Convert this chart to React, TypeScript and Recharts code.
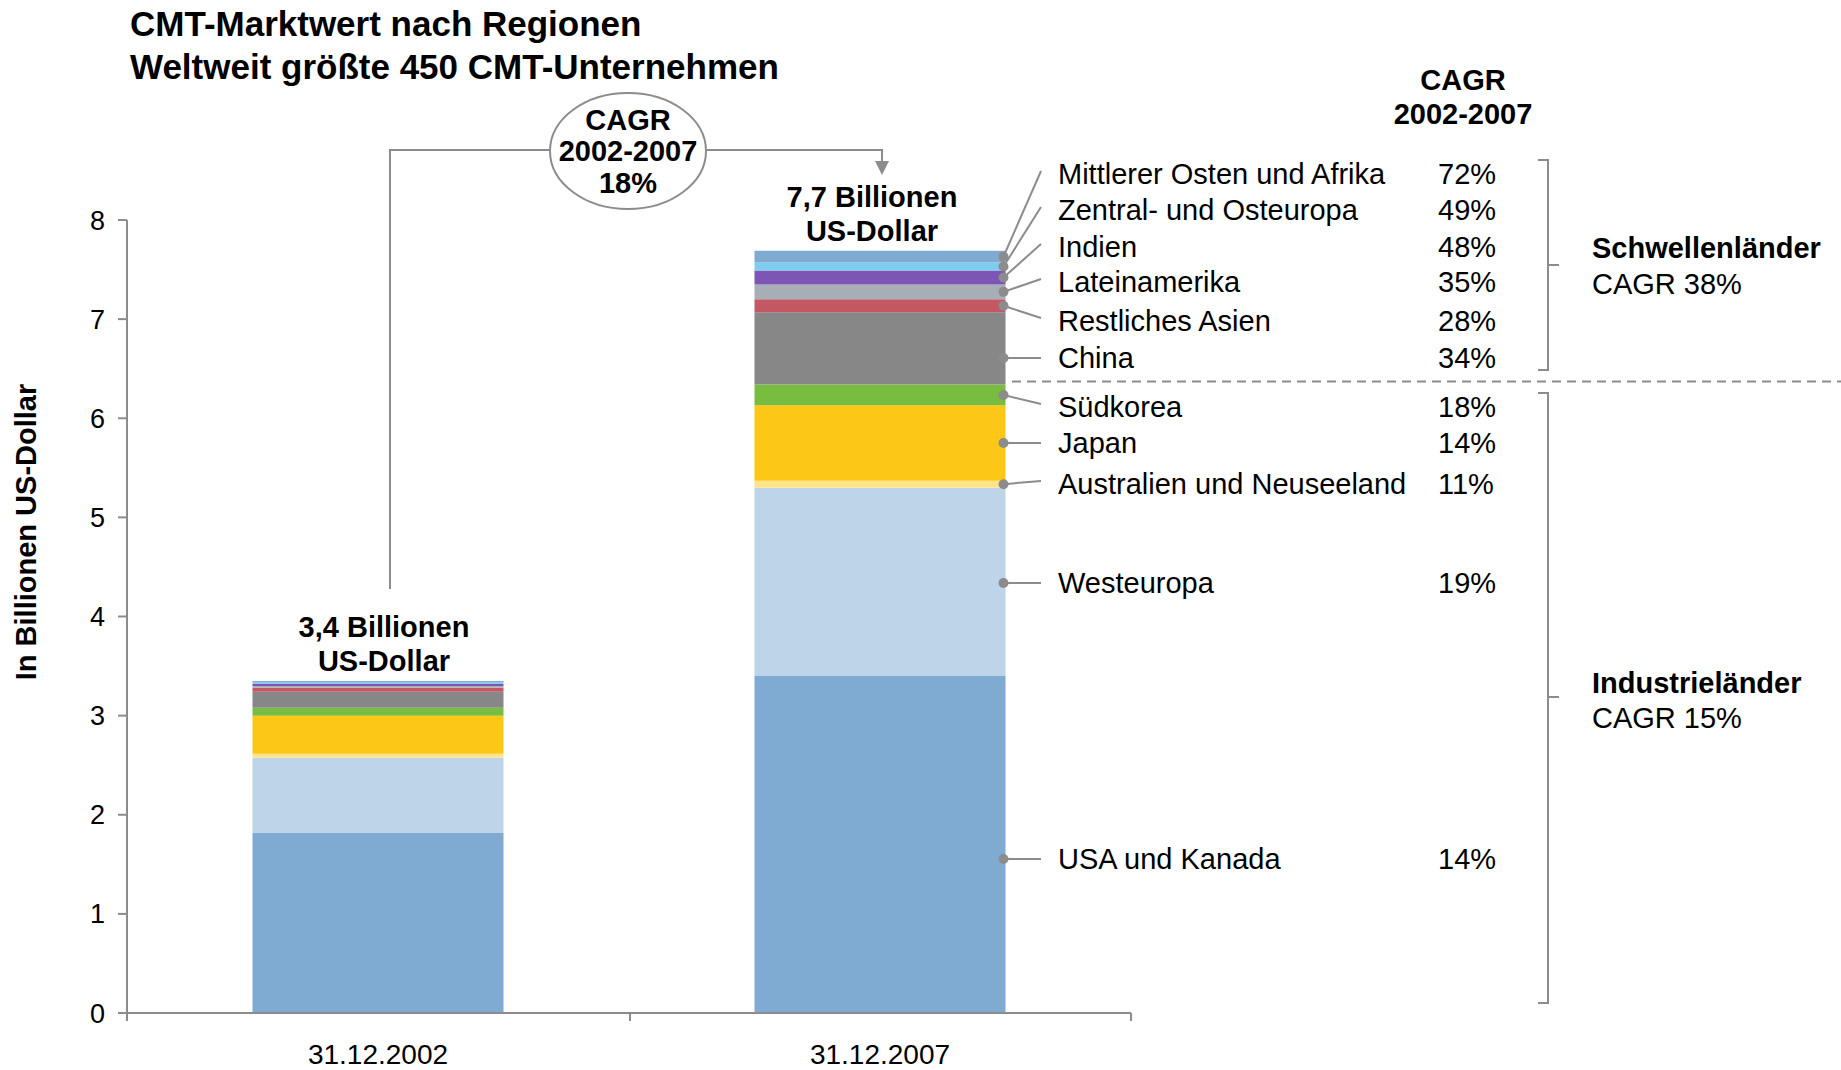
import React from 'react';
import { BarChart, Bar, XAxis, YAxis, LabelList } from 'recharts';

const categories = ['31.12.2002', '31.12.2007'];
const totals = ['3,4', '7,7'];
const regions = [
  'USA und Kanada',
  'Westeuropa',
  'Australien und Neuseeland',
  'Japan',
  'Südkorea',
  'China',
  'Restliches Asien',
  'Lateinamerika',
  'Indien',
  'Zentral- und Osteuropa',
  'Mittlerer Osten und Afrika',
];
const values2002 = [1.82, 0.755, 0.04, 0.385, 0.08, 0.16, 0.04, 0.02, 0.02, 0.015, 0.015];
const values2007 = [3.4, 1.9, 0.07, 0.76, 0.21, 0.73, 0.13, 0.15, 0.14, 0.08, 0.12];
const cagr = ['14%', '19%', '11%', '14%', '18%', '34%', '28%', '35%', '48%', '49%', '72%'];
const colors = ['#7faad2', '#bed4e9', '#fde48a', '#fcc716', '#78bd40', '#878787', '#c35862', '#a7aeb5', '#7c55b5', '#7ccdef', '#7faad2'];
const yTicks = [0, 1, 2, 3, 4, 5, 6, 7, 8];

// layout (label rows on the right, total-label horizontal nudges)
const labelY = [859, 583, 484, 443, 407, 358, 321, 282, 247, 210, 174];
const totalDx = [6, -8];

const FONT = '"Liberation Sans", Arial, Helvetica, sans-serif';
const GRAY = '#8c8c8c';

const data = categories.map((c, ci) => {
  const row: Record<string, any> = { cat: c };
  const vals = ci === 0 ? values2002 : values2007;
  regions.forEach((_, i) => {
    row['s' + i] = vals[i];
  });
  return row;
});

const makeLeader = (i: number) => (props: any) => {
  const { index } = props;
  if (index !== 1) return null;
  const x = Number(props.x ?? props.viewBox?.x);
  const y = Number(props.y ?? props.viewBox?.y);
  const w = Number(props.width ?? props.viewBox?.width);
  const h = Number(props.height ?? props.viewBox?.height);
  const top = Math.min(y, y + h);
  const hh = Math.abs(h);
  const ly = labelY[i];
  const dotY = hh > 40 ? Math.min(Math.max(ly, top + 5), top + hh - 5) : top + hh / 2;
  const dotX = x + w - 2;
  const endY = hh > 40 ? ly : ly - 3;
  return (
    <g>
      <line x1={dotX} y1={dotY} x2={1041} y2={endY} stroke={GRAY} strokeWidth={2} />
      <circle cx={dotX} cy={dotY} r={5} fill={GRAY} />
      <text x={1058} y={ly} dominantBaseline="central" fontSize={29} fontFamily={FONT} fill="#000">
        {regions[i]}
      </text>
      <text x={1438} y={ly} dominantBaseline="central" fontSize={29} fontFamily={FONT} fill="#000">
        {cagr[i]}
      </text>
    </g>
  );
};

const totalLabel = (props: any) => {
  const { index } = props;
  const x = Number(props.x ?? props.viewBox?.x);
  const y = Number(props.y ?? props.viewBox?.y);
  const w = Number(props.width ?? props.viewBox?.width);
  const cx = x + w / 2 + (totalDx[index] ?? 0);
  return (
    <g>
      <text x={cx} y={y - 54} textAnchor="middle" dominantBaseline="central" fontSize={29} fontWeight="bold" fontFamily={FONT} fill="#000">
        {totals[index] + ' Billionen'}
      </text>
      <text x={cx} y={y - 20} textAnchor="middle" dominantBaseline="central" fontSize={29} fontWeight="bold" fontFamily={FONT} fill="#000">
        US-Dollar
      </text>
    </g>
  );
};

const Overlay = () => (
  <svg width={1841} height={1070} style={{ position: 'absolute', left: 0, top: 0, pointerEvents: 'none' }} fontFamily={FONT}>
    {/* title */}
    <text x={130} y={23} dominantBaseline="central" fontSize={35} fontWeight="bold" fill="#000">CMT-Marktwert nach Regionen</text>
    <text x={130} y={66} dominantBaseline="central" fontSize={35} fontWeight="bold" fill="#000">Weltweit größte 450 CMT-Unternehmen</text>
    {/* y axis label */}
    <text x={26} y={532} transform="rotate(-90 26 532)" textAnchor="middle" dominantBaseline="central" fontSize={29} fontWeight="bold" fill="#000">
      In Billionen US-Dollar
    </text>
    {/* x axis boundary ticks */}
    {[127, 630, 1131].map((x) => (
      <line key={x} x1={x} y1={1013} x2={x} y2={1021} stroke={GRAY} strokeWidth={2} />
    ))}
    {/* connector */}
    <polyline points="390,589 390,150 549,150" fill="none" stroke={GRAY} strokeWidth={2} />
    <polyline points="707,150 882,150 882,163" fill="none" stroke={GRAY} strokeWidth={2} />
    <polygon points="875,161 889,161 882,175" fill={GRAY} />
    <ellipse cx={628} cy={151} rx={78} ry={58} fill="#fff" stroke={GRAY} strokeWidth={2} />
    <text x={628} y={120} textAnchor="middle" dominantBaseline="central" fontSize={29} fontWeight="bold" fill="#000">CAGR</text>
    <text x={628} y={151} textAnchor="middle" dominantBaseline="central" fontSize={29} fontWeight="bold" fill="#000">2002-2007</text>
    <text x={628} y={183} textAnchor="middle" dominantBaseline="central" fontSize={29} fontWeight="bold" fill="#000">18%</text>
    {/* CAGR header */}
    <text x={1463} y={80} textAnchor="middle" dominantBaseline="central" fontSize={29} fontWeight="bold" fill="#000">CAGR</text>
    <text x={1463} y={114} textAnchor="middle" dominantBaseline="central" fontSize={29} fontWeight="bold" fill="#000">2002-2007</text>
    {/* dashed separator */}
    <line x1={1012} y1={381.5} x2={1841} y2={381.5} stroke={GRAY} strokeWidth={2} strokeDasharray="9 6" />
    {/* brackets */}
    <polyline points="1538,160 1548,160 1548,370 1538,370" fill="none" stroke={GRAY} strokeWidth={2} />
    <line x1={1548} y1={265} x2={1559} y2={265} stroke={GRAY} strokeWidth={2} />
    <polyline points="1538,393 1548,393 1548,1003 1538,1003" fill="none" stroke={GRAY} strokeWidth={2} />
    <line x1={1548} y1={697} x2={1559} y2={697} stroke={GRAY} strokeWidth={2} />
    <text x={1592} y={248} dominantBaseline="central" fontSize={29} fontWeight="bold" fill="#000">Schwellenländer</text>
    <text x={1592} y={284} dominantBaseline="central" fontSize={29} fill="#000">CAGR 38%</text>
    <text x={1592} y={683} dominantBaseline="central" fontSize={29} fontWeight="bold" fill="#000">Industrieländer</text>
    <text x={1592} y={718} dominantBaseline="central" fontSize={29} fill="#000">CAGR 15%</text>
  </svg>
);

export default function App() {
  return (
    <div style={{ position: 'absolute', left: 0, top: 0, width: 1841, height: 1070, background: '#fff', fontFamily: FONT }}>
      <BarChart
        width={1841}
        height={1070}
        data={data}
        margin={{ top: 220, right: 710, left: 27, bottom: 0 }}
        barCategoryGap="25%"
      >
        <XAxis
          dataKey="cat"
          tickLine={false}
          axisLine={{ stroke: GRAY, strokeWidth: 2 }}
          tick={{ fill: '#000', fontSize: 28, fontFamily: FONT }}
          tickSize={6}
          tickMargin={25}
          height={57}
          interval={0}
        />
        <YAxis
          domain={[0, 8]}
          ticks={yTicks}
          interval={0}
          width={100}
          axisLine={{ stroke: GRAY, strokeWidth: 2 }}
          tickLine={{ stroke: GRAY, strokeWidth: 2 }}
          tickSize={9}
          tickMargin={13}
          tick={{ fill: '#000', fontSize: 27, fontFamily: FONT }}
        />
        {regions.map((r, i) => (
          <Bar key={r} dataKey={'s' + i} name={r} stackId="a" fill={colors[i]} isAnimationActive={false}>
            <LabelList dataKey={'s' + i} content={makeLeader(i)} />
            {i === regions.length - 1 ? <LabelList dataKey={'s' + i} content={totalLabel} /> : null}
          </Bar>
        ))}
      </BarChart>
      <Overlay />
    </div>
  );
}
